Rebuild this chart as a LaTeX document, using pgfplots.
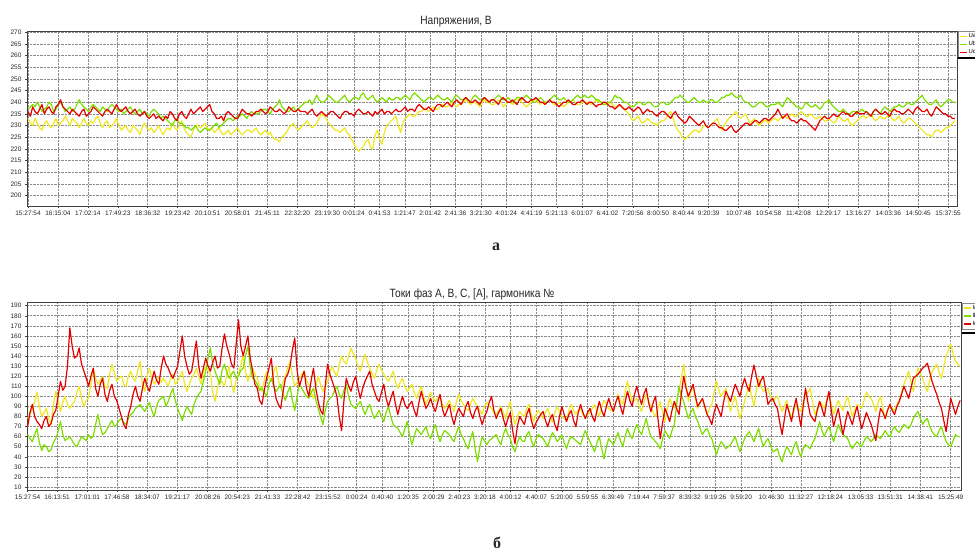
\documentclass[border=0pt]{standalone}
\usepackage{fontspec}
\setmainfont{Liberation Sans}
\newfontfamily\serifcyr{Liberation Serif}
\usepackage{pgfplots}
\usepackage{pgfplotstable}
\pgfplotsset{compat=1.18}
\definecolor{cA}{RGB}{240,232,30}
\definecolor{cB}{RGB}{125,222,0}
\definecolor{cC}{RGB}{228,0,0}

\pgfplotstableread{
a b c
233 237 236
231 238 234
230 239 238
233 238 236
231 240 235
229 238 237
228 236 239
231 237 235
232 238 237
230 240 238
229 239 236
231 236 235
233 237 238
230 239 239
231 240 241
232 238 238
234 236 237
232 237 236
230 238 235
233 236 237
232 237 236
231 239 235
229 241 234
231 239 236
233 238 237
231 237 234
230 236 235
232 238 236
231 239 238
233 238 237
234 237 236
231 236 235
229 238 234
231 237 236
232 236 237
229 238 236
230 239 235
231 238 237
233 237 239
230 236 237
228 237 236
229 235 237
230 236 238
228 237 236
227 238 235
230 236 236
229 235 237
228 236 235
226 237 234
229 235 235
231 236 236
229 235 234
228 234 233
229 236 234
227 237 235
228 236 233
230 235 234
228 233 233
226 234 232
228 233 234
229 232 233
228 231 236
231 230 235
229 232 233
228 233 232
230 231 235
232 231 236
229 230 234
227 229 233
226 229 235
225 228 237
228 229 235
230 230 236
230 228 237
229 227 238
230 228 236
231 229 237
229 228 238
228 228 239
229 229 236
227 230 235
228 231 233
229 229 233
227 230 234
226 231 232
227 232 235
228 233 236
226 233 235
227 232 234
228 233 233
229 234 233
227 234 235
226 235 237
227 234 236
228 233 235
228 235 235
227 236 234
228 235 235
229 235 236
227 235 236
226 236 237
227 237 236
228 237 235
226 236 236
227 235 238
225 237 237
224 238 236
224 239 236
223 241 237
225 238 236
226 237 235
227 236 236
229 236 238
230 237 237
231 238 236
229 236 236
228 237 237
229 238 236
230 239 236
231 240 236
232 240 235
230 241 236
229 239 237
230 241 235
231 243 234
233 241 235
235 240 236
234 240 235
233 241 234
231 243 235
230 242 236
229 241 236
228 240 235
228 240 234
227 241 233
228 242 235
229 243 236
227 241 236
226 240 235
224 241 235
222 242 234
220 242 236
219 241 237
220 243 236
221 244 235
223 242 235
224 241 236
221 242 235
220 243 234
226 241 236
228 240 235
224 241 236
222 242 237
227 241 235
230 240 236
231 242 236
232 241 235
233 241 236
234 242 237
230 242 236
227 241 236
231 242 237
233 243 238
234 242 236
235 241 237
234 243 237
234 244 236
235 243 238
236 242 239
236 241 238
237 240 237
237 241 237
236 242 238
237 242 237
238 241 236
237 242 238
237 243 239
238 242 239
239 241 238
238 241 239
238 242 240
239 241 239
240 240 238
239 242 240
238 243 241
239 242 240
239 241 239
240 241 241
241 242 242
240 241 241
239 240 240
240 242 240
240 243 241
239 242 240
238 241 239
240 241 241
241 242 242
240 241 241
240 240 240
239 241 241
239 241 241
240 242 240
241 243 239
240 242 241
238 241 242
239 241 241
240 242 240
240 241 240
239 240 241
240 241 240
241 242 239
241 242 241
240 241 242
239 242 241
238 243 240
239 242 240
240 241 241
241 240 241
241 240 242
240 241 241
239 242 240
240 241 240
240 240 239
240 240 240
241 241 241
240 242 240
239 243 240
239 242 239
240 241 238
239 241 239
238 242 240
239 241 240
240 240 241
240 240 240
241 241 239
240 242 239
239 243 240
239 242 240
240 242 241
240 243 240
240 242 239
240 242 240
239 243 240
240 242 239
241 241 238
240 241 239
240 240 239
240 239 240
239 239 240
239 240 239
240 240 238
239 241 238
238 243 237
238 242 238
239 242 239
238 241 238
237 240 237
236 240 237
235 239 238
233 238 237
232 238 236
233 239 237
234 240 238
232 240 237
231 239 235
232 239 236
233 240 237
232 240 236
231 239 236
231 238 235
230 238 234
231 239 235
232 240 236
232 240 236
233 239 235
235 239 234
236 240 233
233 241 235
230 242 236
228 242 234
227 243 233
225 242 232
224 241 231
225 240 232
226 240 234
227 241 233
228 242 232
228 241 231
227 240 230
228 240 231
230 241 232
230 240 230
229 240 229
230 241 230
231 241 231
232 240 231
233 240 230
230 241 229
228 242 229
230 242 228
232 243 228
233 243 229
234 244 230
235 243 228
236 242 227
234 242 228
233 243 229
234 241 230
235 240 231
233 240 231
231 239 230
232 238 231
233 238 232
231 239 232
230 240 231
231 240 232
232 239 233
232 238 233
231 238 232
232 239 233
233 239 234
233 239 235
232 240 237
233 239 235
234 238 233
234 240 234
233 242 235
234 241 233
235 240 232
234 239 232
234 238 231
235 238 232
236 237 233
235 238 232
234 240 232
234 239 231
235 238 230
234 238 229
233 239 228
233 238 230
234 237 232
233 238 233
232 240 234
232 240 233
233 241 233
232 239 234
231 238 235
232 237 234
234 236 234
233 236 235
232 237 236
232 236 235
233 235 235
231 235 234
230 236 234
231 236 235
232 235 236
233 236 235
234 237 235
234 236 235
233 236 236
234 235 235
235 234 234
233 236 236
232 237 237
233 236 236
234 235 235
233 237 235
233 238 236
234 237 235
235 236 234
233 237 236
232 238 237
233 238 236
234 239 236
232 238 235
231 238 235
232 239 236
233 240 237
233 239 236
232 239 235
231 240 237
230 241 238
229 242 237
228 243 236
227 241 236
226 240 237
226 239 235
225 239 234
227 240 236
228 241 238
228 239 237
227 238 236
228 239 235
229 240 235
229 241 234
230 241 234
231 240 233
232 240 233
}\topdata

\pgfplotstableread{
a b c
78 62 70
82 58 84
87 55 92
95 62 80
104 68 75
90 54 72
80 46 68
84 52 76
88 50 80
78 45 70
72 47 73
92 54 82
105 58 86
96 65 100
85 75 115
94 62 106
100 56 110
92 58 130
88 60 168
92 56 150
95 52 138
104 50 140
110 55 148
98 60 132
90 58 125
96 56 118
98 62 110
112 58 120
128 60 128
118 72 108
112 82 100
116 70 112
120 62 118
110 64 102
108 68 95
122 72 106
132 76 112
124 70 100
115 72 96
118 76 88
120 78 80
112 74 72
110 72 68
120 78 82
125 82 90
118 84 102
115 88 110
126 90 100
135 92 95
112 88 108
105 85 118
120 90 110
128 94 105
118 86 116
112 80 125
116 90 116
120 96 112
114 98 128
118 100 140
114 90 132
110 95 128
118 102 122
122 108 118
112 96 124
115 88 130
120 82 145
125 76 160
112 84 140
105 90 130
112 86 122
118 82 125
122 92 140
128 98 155
120 102 130
112 105 118
124 115 128
130 125 138
126 138 130
122 148 125
104 132 134
95 125 140
108 118 128
118 112 130
114 126 148
110 132 162
122 124 150
130 118 142
112 122 132
104 125 128
116 118 152
122 120 176
132 126 150
140 128 140
124 140 150
115 150 160
122 130 138
128 118 125
122 116 112
118 112 108
110 106 96
105 108 92
116 104 106
125 100 118
118 112 128
115 118 138
124 110 112
130 105 98
116 108 92
108 112 88
114 102 104
120 96 118
128 104 122
135 110 130
120 96 146
110 86 158
114 100 126
118 112 110
122 108 118
125 104 125
116 100 108
112 98 100
104 104 116
98 108 128
110 96 108
120 88 95
112 80 86
105 72 82
110 86 110
115 95 132
124 98 122
130 100 115
124 106 108
120 110 100
132 102 80
140 98 66
135 106 96
132 112 118
140 100 110
148 92 105
142 90 114
138 88 120
130 92 108
125 95 98
134 88 108
142 82 115
134 88 120
128 92 125
122 84 112
118 78 105
126 82 98
132 86 95
126 80 104
122 75 112
118 84 98
115 90 90
120 80 98
125 72 105
114 70 92
108 68 82
114 64 92
118 60 100
110 68 92
105 75 88
108 62 92
112 52 95
104 60 86
98 68 80
104 65 94
110 62 105
100 66 96
92 70 88
98 62 92
104 58 98
98 66 90
95 72 85
98 62 94
100 55 102
92 62 88
88 66 80
92 64 86
96 62 92
90 58 80
85 55 72
94 64 82
102 70 88
96 62 84
92 58 80
88 52 90
86 48 95
92 58 84
98 65 78
94 48 86
90 35 90
86 50 80
82 60 72
90 56 80
94 52 85
90 56 94
88 58 100
84 60 86
82 62 78
86 56 84
90 52 88
84 62 78
78 68 70
88 62 78
95 58 84
82 50 66
72 45 53
80 54 70
85 60 80
82 56 76
80 55 72
88 62 82
92 65 88
82 56 76
75 50 68
82 58 74
86 62 78
82 60 82
78 58 85
84 54 76
88 50 70
80 58 78
74 64 82
84 60 72
90 55 66
84 58 80
80 62 90
78 54 82
76 48 75
86 56 82
92 60 86
86 58 76
82 56 70
86 54 84
88 52 92
82 60 84
78 66 78
82 60 84
84 55 88
88 50 80
92 45 75
86 54 86
80 60 95
90 48 86
96 38 80
92 50 90
88 58 98
86 55 90
85 52 85
94 58 94
102 64 100
96 56 90
92 50 82
104 60 94
115 68 105
104 62 96
95 58 90
96 66 102
98 72 110
90 66 100
85 62 92
94 70 102
102 78 108
96 68 94
90 60 85
84 58 94
80 55 100
88 52 78
95 48 58
84 58 74
75 66 88
88 62 82
98 58 75
92 66 86
88 72 95
96 92 88
105 110 82
118 100 102
132 95 120
112 86 108
95 78 100
104 84 106
110 88 112
98 80 100
88 75 90
94 68 94
98 62 98
90 66 90
82 68 82
88 62 78
92 58 72
104 50 84
115 42 92
106 50 86
100 55 80
104 52 94
108 48 105
96 50 100
85 52 95
94 56 104
100 60 112
88 52 106
78 45 100
86 52 110
95 58 118
104 62 110
112 65 105
100 60 120
90 55 131
106 62 120
118 68 110
110 58 116
105 50 120
106 55 106
108 58 92
100 52 96
95 45 98
98 46 92
100 48 88
92 40 74
85 35 62
90 44 78
96 50 92
86 46 84
78 42 75
86 50 88
92 55 98
88 46 84
85 40 70
94 48 90
100 52 108
104 50 94
108 48 82
94 54 78
82 58 75
88 66 86
95 75 95
92 66 88
88 60 80
96 66 94
102 70 105
92 62 86
82 55 70
90 64 80
96 72 88
90 66 74
86 62 62
94 60 74
100 58 85
90 52 78
80 48 72
86 52 82
92 55 90
90 52 78
88 50 68
96 56 76
104 60 84
100 58 78
98 55 72
92 58 64
85 62 56
94 60 74
100 58 88
88 62 84
78 66 78
86 62 86
92 60 92
88 66 86
86 70 82
92 66 90
96 64 95
104 68 102
112 72 110
118 70 104
125 68 98
114 72 108
105 78 118
118 82 120
128 85 122
122 78 125
118 72 128
110 76 130
105 78 133
116 70 124
125 65 115
128 62 108
132 60 102
124 66 94
118 70 88
130 62 76
140 55 65
146 52 82
152 50 98
142 56 90
135 62 82
132 60 90
130 60 96
}\botdata

\pgfplotsset{
  common/.style={
    scale only axis, anchor=south west, clip=true,
    axis line style={black!75, line width=0.8pt},
    grid=major,
    major grid style={densely dotted, black!45, line width=0.6pt},
    tick style={black!75, line width=0.5pt},
    major tick length=2pt, tick align=outside,
    xtick pos=bottom, ytick pos=left,
    ticklabel style={font=\fontsize{6.5}{7}\selectfont, text=black!85},
    /pgf/number format/assume math mode=true,
    xticklabel style={yshift=1pt},
    every axis plot/.append style={line width=1.2pt, mark=none, line join=round},
    legend image code/.code={\draw[##1] (0pt,0pt) -- (7pt,0pt);},
    legend cell align=left,
    legend style={at={(1.001,1)}, anchor=north west, draw=black!45, fill=white,
      font=\fontsize{6}{6}\selectfont, inner sep=1.2pt, row sep=0.3pt,
      nodes={inner sep=1pt}},
  }
}

\begin{document}
\begin{tikzpicture}[x=1pt,y=1pt]
\useasboundingbox (0,0) rectangle (975,552);

\begin{axis}[common,
  at={(27pt,346pt)}, width=930pt, height=175pt,
  xmin=-1.6, xmax=1464, ymin=195.5, ymax=270.5,
  ytick={200,205,...,270},
  xtick={0,47.17,94.33,141.48,188.63,235.8,282.95,330.12,377.28,424.43,471.6,513.5,553.98,593.88,633.8,673.7,713.6,753.5,793.4,833.3,873.2,913.13,953.03,992.93,1032.83,1072.75,1119.9,1167.07,1214.23,1261.38,1308.55,1355.7,1402.85,1450.02},
  xticklabels={15:27:54,16:15:04,17:02:14,17:49:23,18:36:32,19:23:42,20:10:51,20:58:01,21:45:11,22:32:20,23:19:30,0:01:24,0:41:53,1:21:47,2:01:42,2:41:36,3:21:30,4:01:24,4:41:19,5:21:13,6:01:07,6:41:02,7:20:56,8:00:50,8:40:44,9:20:39,10:07:48,10:54:58,11:42:08,12:29:17,13:16:27,14:03:36,14:50:45,15:37:55},
]
\addplot[cA] table[x expr=\coordindex*3.67, y=a] {\topdata};
\addplot[cB] table[x expr=\coordindex*3.67, y=b] {\topdata};
\addplot[cC] table[x expr=\coordindex*3.67, y=c] {\topdata};
\legend{Ua,Ub,Uc}
\end{axis}

\begin{axis}[common,
  at={(27pt,62pt)}, width=934pt, height=187.3pt,
  xmin=-1, xmax=1454, ymin=7, ymax=193,
  ytick={10,20,...,190},
  xtick={0,45.95,93.12,139.07,186.22,233.38,280.53,326.48,373.65,420.8,467.97,512.5,552.77,592.68,632.58,672.48,712.4,752.3,792.22,832.1,872.02,911.92,951.83,991.72,1031.63,1071.53,1111.43,1158.6,1204.55,1250.5,1297.65,1343.62,1390.78,1437.92},
  xticklabels={15:27:54,16:13:51,17:01:01,17:46:58,18:34:07,19:21:17,20:08:26,20:54:23,21:41:33,22:28:42,23:15:52,0:00:24,0:40:40,1:20:35,2:00:29,2:40:23,3:20:18,4:00:12,4:40:07,5:20:00,5:59:55,6:39:49,7:19:44,7:59:37,8:39:32,9:19:26,9:59:20,10:46:30,11:32:27,12:18:24,13:05:33,13:51:31,14:38:41,15:25:49},
]
\addplot[cA] table[x expr=\coordindex*3.65, y=a] {\botdata};
\addplot[cB] table[x expr=\coordindex*3.65, y=b] {\botdata};
\addplot[cC] table[x expr=\coordindex*3.65, y=c] {\botdata};
\legend{Ia,Ib,Ic}
\end{axis}

\draw[line width=1.6pt] (958,494) -- (975,494);
\draw[line width=1.6pt] (962,219) -- (975,219);

\node[font=\fontsize{12}{12}\selectfont, text=black!85] at (456,530.5) {\scalebox{0.85}[1]{Напряжения, В}};
\node[font=\fontsize{12}{12}\selectfont, text=black!85] at (472,258) {\scalebox{0.85}[1]{Токи фаз A, B, C, [A], гармоника №}};
\node[font=\serifcyr\bfseries\fontsize{16}{16}\selectfont, text=black!85] at (496,305) {а};
\node[font=\serifcyr\bfseries\fontsize{16}{16}\selectfont, text=black!85] at (497,9) {б};
\end{tikzpicture}
\end{document}
